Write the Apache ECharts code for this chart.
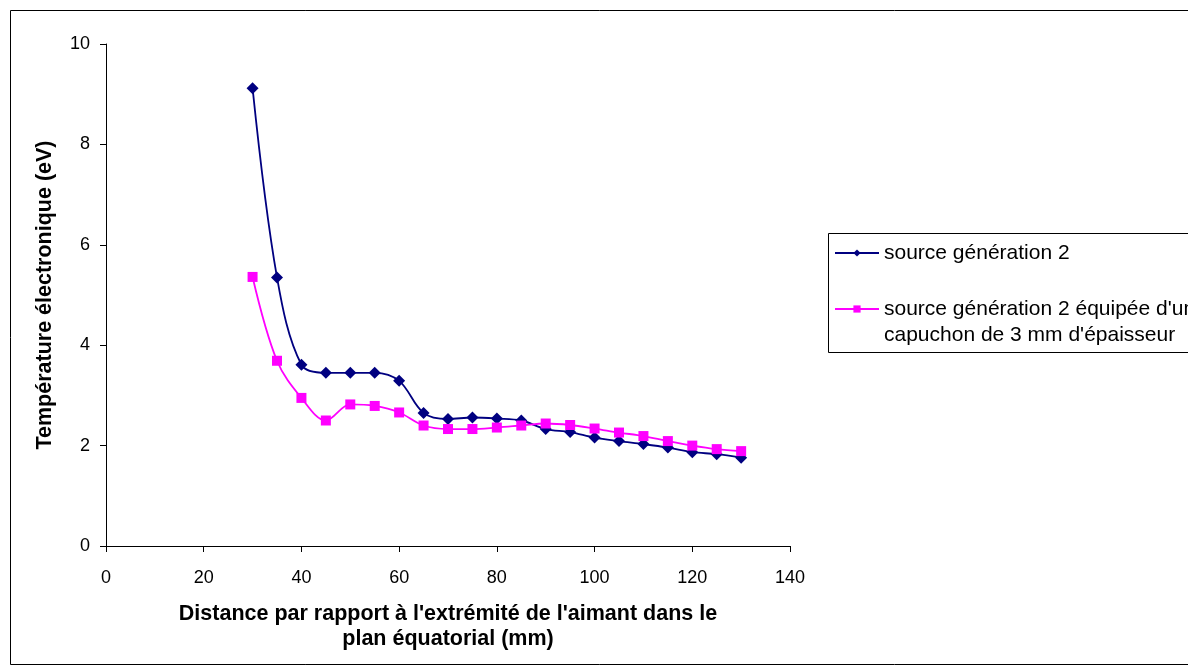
<!DOCTYPE html>
<html>
<head>
<meta charset="utf-8">
<script src="https://cdn.jsdelivr.net/npm/echarts@6/dist/echarts.min.js"></script>
<style>html,body{margin:0;padding:0;background:#fff}#c{width:1188px;height:670px}</style>
</head>
<body>
<div id="c"></div>
<script>
const distances = [30,35,40,45,50,55,60,65,70,75,80,85,90,95,100,105,110,115,120,125,130];
const gen2 = [9.12,5.35,3.61,3.45,3.45,3.45,3.29,2.65,2.53,2.56,2.54,2.50,2.33,2.27,2.16,2.09,2.03,1.96,1.87,1.83,1.76];
const gen2Cap = [5.36,3.69,2.95,2.50,2.82,2.79,2.66,2.40,2.33,2.33,2.36,2.40,2.44,2.41,2.34,2.26,2.19,2.09,2.00,1.93,1.89];
const seriesNames = ['source génération 2', "source génération 2 équipée d'un\ncapuchon de 3 mm d'épaisseur"];
const xTitle = "Distance par rapport à l'extrémité de l'aimant dans le\nplan équatorial (mm)";
const yTitle = 'Température électronique (eV)';

const font = '"Liberation Sans", Arial, sans-serif';
const chart = echarts.init(document.getElementById('c'), null, {renderer:'canvas'});
chart.setOption({
  animation:false,
  backgroundColor:'#fff',
  textStyle:{fontFamily:font},
  graphic:[
    {type:'rect', shape:{x:10.5,y:10.5,width:1200,height:654}, style:{fill:'none',stroke:'#000',lineWidth:1}, z:-1},
    {type:'rect', shape:{x:828.5,y:233.5,width:400,height:119}, style:{fill:'#fff',stroke:'#000',lineWidth:1}, z:-1}
  ],
  grid:{left:106, right:398, top:44, bottom:124},
  legend:{
    orient:'vertical', left:834, top:240, itemGap:4, padding:0,
    itemWidth:44, itemHeight:9,
    textStyle:{fontFamily:font, fontSize:21, color:'#000', lineHeight:26},
    formatter:function(n){ return n === seriesNames[1] ? '\n' + n : n; },
    data:[seriesNames[0], seriesNames[1]]
  },
  xAxis:{
    type:'value', min:0, max:140, interval:20,
    axisLine:{lineStyle:{color:'#000', width:1}},
    axisTick:{show:true, length:6, lineStyle:{color:'#000'}},
    axisLabel:{fontFamily:font, fontSize:18, color:'#000', margin:23},
    splitLine:{show:false},
    name:xTitle, nameLocation:'middle', nameGap:56,
    nameTextStyle:{fontFamily:font, fontSize:21.5, fontWeight:'bold', color:'#000', lineHeight:25}
  },
  yAxis:{
    type:'value', min:0, max:10, interval:2,
    axisLine:{show:true, lineStyle:{color:'#000', width:1}},
    axisTick:{show:true, length:6, lineStyle:{color:'#000'}},
    axisLabel:{fontFamily:font, fontSize:18, color:'#000', margin:16},
    splitLine:{show:false},
    name:yTitle, nameLocation:'middle', nameGap:50,
    nameTextStyle:{fontFamily:font, fontSize:21.5, fontWeight:'bold', color:'#000'}
  },
  series:[
    {name:seriesNames[0], type:'line', smooth:0.35, symbol:'diamond', symbolSize:12,
     data:distances.map((d,i)=>[d,gen2[i]]),
     lineStyle:{color:'#000080', width:1.8}, itemStyle:{color:'#000080'}},
    {name:seriesNames[1], type:'line', smooth:0.35, symbol:'rect', symbolSize:10,
     data:distances.map((d,i)=>[d,gen2Cap[i]]),
     lineStyle:{color:'#ff00ff', width:1.8}, itemStyle:{color:'#ff00ff'}}
  ]
});
</script>
</body>
</html>
